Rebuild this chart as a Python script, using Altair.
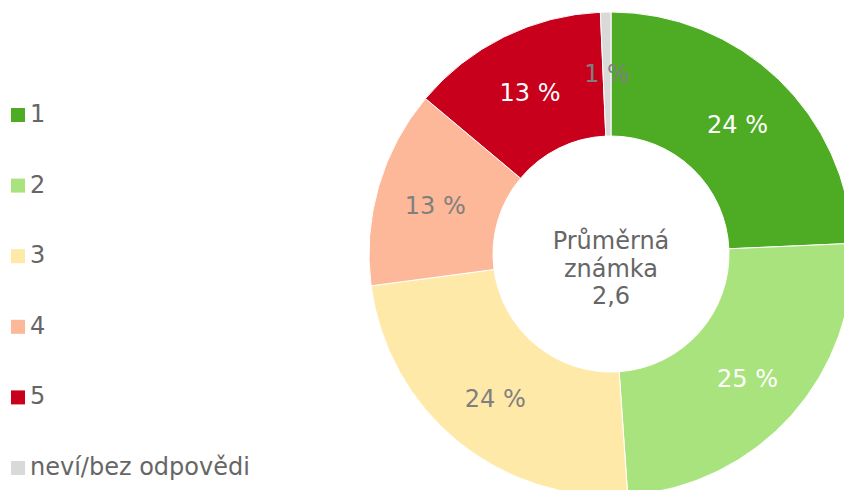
import altair as alt
import pandas as pd

categories = ["1", "2", "3", "4", "5", "neví/bez odpovědi"]
shares = [24.3, 24.6, 24.0, 13.2, 13.2, 0.7]
palette = ["#4EAC24", "#A9E37D", "#FFE9A8", "#FCB898", "#C8001C", "#D9D9D9"]
center_lines = ["Průměrná", "známka", "2,6"]

df = pd.DataFrame({"category": categories, "share": shares, "idx": list(range(len(categories)))})

CX, CY = 603, 246

base = alt.Chart(df).encode(
    theta=alt.Theta("share:Q", stack=True),
    order=alt.Order("idx:Q"),
    x=alt.value(CX),
    y=alt.value(CY),
)

arcs = base.mark_arc(outerRadius=242, innerRadius=118, stroke="white", strokeWidth=1).encode(
    color=alt.Color(
        "category:N",
        scale=alt.Scale(domain=categories, range=palette),
        sort=categories,
        legend=alt.Legend(
            title=None,
            orient="none",
            legendX=-2,
            legendY=95,
            direction="vertical",
            symbolType="square",
            symbolSize=196,
            symbolStrokeWidth=0,
            labelFontSize=24,
            labelFont="DejaVu Sans",
            labelColor="#666666",
            labelOffset=0,
            rowPadding=46.6,
            labelLimit=400,
        ),
    )
)

labels = base.transform_calculate(
    label="format(datum.share, '.0f') + ' %'"
).mark_text(radius=183, dy=4, fontSize=24, font="DejaVu Sans", align="center", baseline="middle").encode(
    text="label:N",
    color=alt.condition(
        "indexof(['1','2','5'], datum.category) >= 0",
        alt.value("white"),
        alt.value("#7F7F7F"),
    ),
)

center = alt.Chart(pd.DataFrame({"t": [0]})).mark_text(
    fontSize=24, font="DejaVu Sans", color="#666666", align="center", baseline="alphabetic", lineHeight=27.5
).encode(
    x=alt.value(CX),
    y=alt.value(241),
    text=alt.value(center_lines),
)

chart = alt.layer(arcs, labels, center).properties(
    width=836, height=482, padding=0, autosize="none"
).configure_view(stroke=None)

chart.save("out.html", embed_options={"renderer": "svg", "actions": False})
